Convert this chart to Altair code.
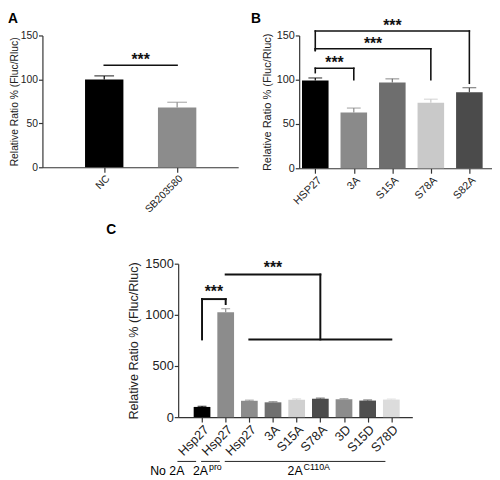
import altair as alt
import pandas as pd

FONT = "Liberation Sans"
YTITLE = "Relative Ratio % (Fluc/Rluc)"

# ---------------- Panel A ----------------
a_cats = ["NC", "SB203580"]
a_vals = [100, 68]
a_errs = [4, 6]
a_colors = ["#000000", "#8c8c8c"]
a_sig_from = [0]
a_sig_to = [1]
a_sig_height = [116]
a_sig_left_end = [116]
a_sig_right_end = [116]

# ---------------- Panel B ----------------
b_cats = ["HSP27", "3A", "S15A", "S78A", "S82A"]
b_vals = [99, 63, 97, 74, 86]
b_errs = [3, 5, 4, 4, 5]
b_colors = ["#000000", "#8a8a8a", "#6e6e6e", "#c9c9c9", "#4b4b4b"]
b_sig_from = [0, 0, 0]
b_sig_to = [1, 3, 4]
b_sig_height = [113, 135, 155]
b_sig_left_end = [108, 133, 133]
b_sig_right_end = [100, 100, 96]

# ---------------- Panel C ----------------
c_cats = ["Hsp27", "Hsp27", "Hsp27", "3A", "S15A", "S78A", "3D", "S15D", "S78D"]
c_vals = [100, 1025, 160, 145, 170, 180, 175, 162, 172]
c_errs = [6, 35, 6, 6, 8, 6, 6, 6, 5]
c_colors = ["#000000", "#8c8c8c", "#8c8c8c", "#707070", "#d0d0d0",
            "#4b4b4b", "#8c8c8c", "#4f4f4f", "#dcdcdc"]
c_sig_from = [0, 1]
c_sig_to = [1, 5]
c_sig_height = [1154, 1394]
c_sig_left_end = [760, 1394]
c_sig_right_end = [1106, 760]
c_base_from = [2]
c_base_to = [8]
c_base_height = [760]
c_groups = ["No 2A", "2A", "2A"]
c_group_sup = ["", "pro", "C110A"]
c_group_first = [0, 1, 2]
c_group_last = [0, 1, 8]


def sig_frames(frm, to, h, le, re, base=None):
    segs = []
    stars = []
    for f, t, hh, l, r in zip(frm, to, h, le, re):
        segs.append({"x1": f, "x2": t, "y1": hh, "y2": hh})
        if l != hh:
            segs.append({"x1": f, "x2": f, "y1": hh, "y2": l})
        if r != hh:
            segs.append({"x1": t, "x2": t, "y1": hh, "y2": r})
        stars.append({"mx": (f + t) / 2, "h": hh})
    if base:
        for f, t, hh in zip(*base):
            segs.append({"x1": f, "x2": t, "y1": hh, "y2": hh})
    return pd.DataFrame(segs), pd.DataFrame(stars)


def panel(cats, vals, errs, colors, segdf, stardf, *, width, height, xdom,
          ydom, yticks, fs, tfs, bar_w, cap_w, title, tdx, toff,
          seg_w, star_fs, star_dy, tpad=4, extra=None):
    n = len(cats)
    df = pd.DataFrame({"idx": list(range(n)), "val": vals,
                       "top": [v + e for v, e in zip(vals, errs)],
                       "col": colors})
    label_expr = "[" + ",".join(repr(c) for c in cats) + "][datum.value]"
    xs = alt.Scale(domain=xdom, nice=False, zero=False)
    ys = alt.Scale(domain=ydom, nice=False, zero=True)
    xax = alt.Axis(
        values=list(range(n)), labelExpr=label_expr, labelAngle=-45,
        labelAlign="right", labelBaseline="top", title=None, grid=False,
        labelFontSize=fs, tickSize=5, labelPadding=1, labelOverlap=False)
    yax = alt.Axis(
        values=yticks, format="d", title=YTITLE, grid=False, titleFontSize=tfs,
        titleFontWeight="normal", labelFontSize=fs, tickSize=4,
        labelPadding=1, titlePadding=tpad)

    def X(f):
        return alt.X(f, scale=xs, axis=xax)

    def Y(f):
        return alt.Y(f, scale=ys, axis=yax)

    color = alt.Color("col:N", scale=None)
    bars = alt.Chart(df).mark_bar(size=bar_w, orient="vertical").encode(
        x=X("idx:Q"), y=Y("val:Q"), color=color)
    err = alt.Chart(df).mark_rule(strokeWidth=1.2).encode(
        x=X("idx:Q"), y=Y("val:Q"), y2="top:Q", color=color)
    caps = alt.Chart(df).mark_tick(orient="horizontal", size=cap_w,
                                   thickness=1.2).encode(
        x=X("idx:Q"), y=Y("top:Q"), color=color)
    segs = alt.Chart(segdf).mark_rule(strokeWidth=seg_w, color="#111",
                                      strokeCap="square").encode(
        x=X("x1:Q"), x2="x2:Q", y=Y("y1:Q"), y2="y2:Q")
    stars = alt.Chart(stardf).mark_text(
        text="***", fontSize=star_fs, fontWeight="bold", baseline="alphabetic",
        dy=star_dy, color="#111").encode(x=X("mx:Q"), y=Y("h:Q"))
    layers = [bars, err, caps, segs, stars]
    if extra:
        layers += extra(X, Y)
    return alt.layer(*layers).properties(
        width=width, height=height,
        title=alt.TitleParams(title, anchor="start", frame="group", dx=tdx,
                              offset=toff, fontSize=14, fontWeight="bold",
                              color="black"))


sa, ta = sig_frames(a_sig_from, a_sig_to, a_sig_height, a_sig_left_end, a_sig_right_end)
sb, tb = sig_frames(b_sig_from, b_sig_to, b_sig_height, b_sig_left_end, b_sig_right_end)
sc, tc = sig_frames(c_sig_from, c_sig_to, c_sig_height, c_sig_left_end, c_sig_right_end,
                    base=(c_base_from, c_base_to, c_base_height))

A = panel(a_cats, a_vals, a_errs, a_colors, sa, ta, width=199, height=134,
          xdom=[-0.78, 1.77], ydom=[0, 150], yticks=[0, 50, 100, 150],
          fs=10.5, tfs=10.5, bar_w=39, cap_w=20, title="A", tdx=-35, toff=5,
          seg_w=1.5, star_fs=16, star_dy=0, tpad=1)

B = panel(b_cats, b_vals, b_errs, b_colors, sb, tb, width=196, height=135,
          xdom=[-0.29, 4.46], ydom=[0, 150], yticks=[0, 50, 100, 150],
          fs=11, tfs=11.2, bar_w=27, cap_w=14, title="B", tdx=-49, toff=-8,
          seg_w=1.6, star_fs=16, star_dy=0)

# group labels under panel C
gdf = pd.DataFrame({"first": c_group_first, "last": c_group_last,
                    "mid": [(f + l) / 2 for f, l in zip(c_group_first, c_group_last)],
                    "name": c_groups, "sup": c_group_sup})


def c_groups_layers(X, Y):
    glines = alt.Chart(gdf).mark_rule(strokeWidth=1, color="#222", xOffset=-25,
                                      x2Offset=-6, yOffset=45).encode(
        x=X("first:Q"), x2="last:Q", y=alt.datum(0))
    gtext = alt.Chart(gdf).mark_text(fontSize=12.5, align="right", baseline="alphabetic",
                                     dx=-18, dy=59, color="black").encode(
        x=X("mid:Q"), y=alt.datum(0), text="name:N")
    gsup = alt.Chart(gdf).mark_text(fontSize=9, align="left", baseline="alphabetic",
                                    dx=-17, dy=54, color="black").encode(
        x=X("mid:Q"), y=alt.datum(0), text="sup:N")
    return [glines, gtext, gsup]


C = panel(c_cats, c_vals, c_errs, c_colors, sc, tc, width=238, height=156,
          xdom=[-0.8, 8.68], ydom=[0, 1500], yticks=[0, 500, 1000, 1500],
          fs=13, tfs=12.8, bar_w=17, cap_w=9, title="C", tdx=-73, toff=21,
          seg_w=2, star_fs=16, star_dy=-2, extra=c_groups_layers)

spacer = alt.Chart(pd.DataFrame({"s": [0]})).mark_point(opacity=0).encode(
    x=alt.X("s:Q", axis=None), y=alt.Y("s:Q", axis=None)).properties(width=65, height=10)

top = alt.hconcat(A, B, spacing=13)
bottom = alt.hconcat(spacer, C, spacing=0)
chart = alt.vconcat(top, bottom, spacing=8).properties(padding=0).configure(
    font=FONT).configure_view(stroke=None).configure_axis(
    domainColor="#333", tickColor="#333", labelColor="#222", titleColor="#222",
    domainWidth=1.2, tickWidth=1.2, labelFont=FONT, titleFont=FONT)

chart.save("out.html", embed_options={"renderer": "svg", "actions": False})
